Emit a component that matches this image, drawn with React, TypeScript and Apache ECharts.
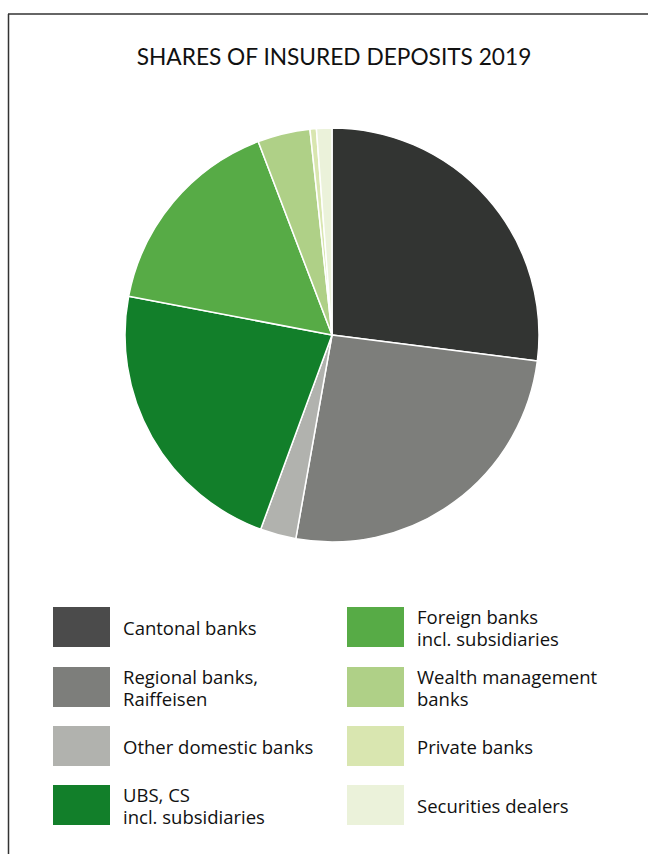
import React, { useEffect, useRef } from "react";
import * as echarts from "echarts";

const title = "SHARES OF INSURED DEPOSITS 2019";
const categories = [
  "Cantonal banks",
  "Regional banks, Raiffeisen",
  "Other domestic banks",
  "UBS, CS incl. subsidiaries",
  "Foreign banks incl. subsidiaries",
  "Wealth management banks",
  "Private banks",
  "Securities dealers",
];
const legendLabels = [
  "Cantonal banks",
  "Regional banks,\nRaiffeisen",
  "Other domestic banks",
  "UBS, CS\nincl. subsidiaries",
  "Foreign banks\nincl. subsidiaries",
  "Wealth management\nbanks",
  "Private banks",
  "Securities dealers",
];
const shares = [27.0, 25.8, 2.8, 22.4, 16.2, 4.1, 0.5, 1.2];
const sliceColors = ["#323432", "#7d7e7b", "#b1b2ae", "#127f2a", "#57ab46", "#afd087", "#d9e6b0", "#ebf2da"];
const swatchColors = ["#4b4b4b", "#7d7e7b", "#b1b2ae", "#127f2a", "#57ab46", "#afd087", "#d9e6b0", "#ebf2da"];

const rowTops = [607, 667, 726, 785];
const colLefts = [53, 347];

export default function App() {
  const ref = useRef<HTMLDivElement>(null);
  useEffect(() => {
    if (!ref.current) return;
    const chart = echarts.init(ref.current, undefined, { renderer: "svg" });
    const labelMap: Record<string, string> = {};
    categories.forEach((c, i) => (labelMap[c] = legendLabels[i]));
    const legends = categories.map((c, i) => {
      const col = Math.floor(i / 4);
      const row = i % 4;
      const twoLine = legendLabels[i].includes("\n");
      return {
        orient: "vertical" as const,
        left: colLefts[col],
        top: rowTops[row] - (twoLine ? 2 : 0),
        padding: 0,
        itemWidth: 57,
        itemHeight: 40,
        icon: "rect",
        selectedMode: false,
        formatter: (n: string) => labelMap[n],
        textStyle: {
          fontFamily: "Open Sans",
          fontSize: 18.5,
          lineHeight: 22,
          color: "#111",
          padding: [0, 0, 0, 8],
        },
        data: [{ name: c, itemStyle: { color: swatchColors[i], borderWidth: 0 } }],
      };
    });
    chart.setOption({
      animation: false,
      title: {
        text: title,
        left: 329,
        textAlign: "center",
        top: 40,
        textStyle: { fontFamily: "Lato", fontWeight: "normal", fontSize: 22.7, color: "#111" },
      },
      legend: legends,
      graphic: [
        { type: "line", shape: { x1: 8, y1: 14, x2: 648, y2: 14 }, style: { stroke: "#333", lineWidth: 1.5 } },
        { type: "line", shape: { x1: 8.5, y1: 14, x2: 8.5, y2: 854 }, style: { stroke: "#333", lineWidth: 1.5 } },
      ],
      series: [
        {
          type: "pie",
          center: [332, 335],
          radius: 207,
          startAngle: 90,
          clockwise: true,
          label: { show: false },
          labelLine: { show: false },
          emphasis: { disabled: true },
          itemStyle: { borderColor: "#ffffff", borderWidth: 1.5 },
          data: categories.map((c, i) => ({ name: c, value: shares[i], itemStyle: { color: sliceColors[i] } })),
        },
      ],
    });
    return () => chart.dispose();
  }, []);
  return <div ref={ref} style={{ position: "absolute", left: 0, top: 0, width: 648, height: 854 }} />;
}
